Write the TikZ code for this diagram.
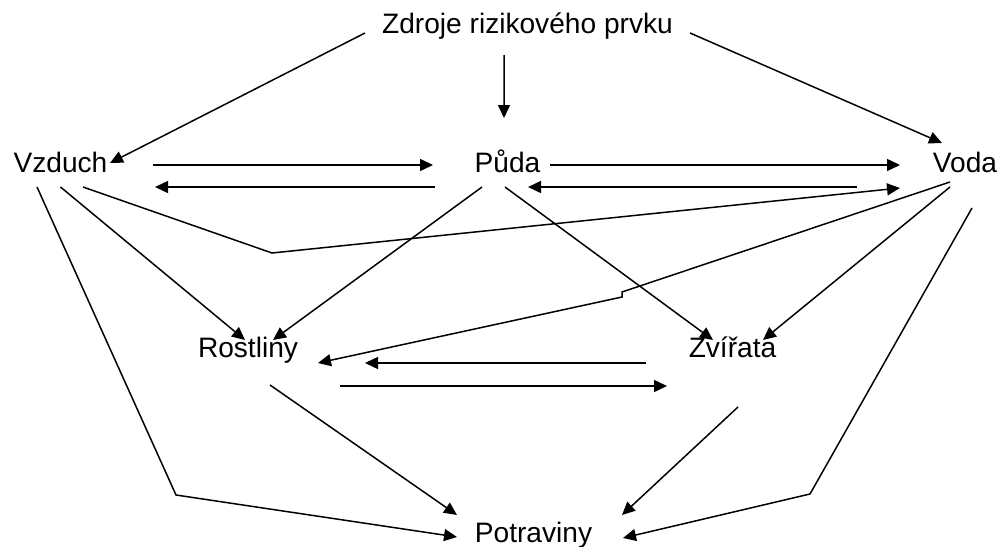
\documentclass[tikz,border=0pt]{standalone}
\usepackage{fontspec}
\setmainfont{Liberation Sans}
\usetikzlibrary{arrows.meta, calc}

\begin{document}
\begin{tikzpicture}[>={Triangle[length=0.26cm, width=0.24cm]}, line width=0.85pt,
  every node/.style={font=\fontsize{16}{19}\selectfont, inner sep=0pt, anchor=base}]
  \useasboundingbox (0,0) rectangle (20.06,-10.94);

  \node (zdroje) at (10.55,-0.66) {Zdroje rizikového prvku};
  \node (vzduch) at (1.21,-3.44) {Vzduch};
  \node (puda) at (10.15,-3.44) {Půda};
  \node (voda) at (19.30,-3.44) {Voda};
  \node (rostliny) at (4.96,-7.14) {Rostliny};
  \node (zvirata) at (14.65,-7.14) {Zvířata};
  \node (potraviny) at (10.67,-10.84) {Potraviny};

  % knee points of the bent lines
  \coordinate (knickA) at (5.44,-5.06);
  \coordinate (knickB1) at (12.44,-5.84);
  \coordinate (knickB2) at (12.44,-5.94);
  \coordinate (knickC) at (3.52,-9.90);
  \coordinate (knickD) at (16.20,-9.88);

  % from the source
  \draw[->] ([shift={(-3.25,0)}]zdroje.base) -- ([shift={(0.99,0.18)}]vzduch.base);
  \draw[->] ([shift={(-0.47,-0.44)}]zdroje.base) -- ([shift={(-0.07,1.08)}]puda.base);
  \draw[->] ([shift={(3.25,0)}]zdroje.base) -- ([shift={(-0.46,0.58)}]voda.base);

  % air, soil, water
  \draw[->] ([shift={(1.85,0.14)}]vzduch.base) -- ([shift={(-1.49,0.14)}]puda.base);
  \draw[->] ([shift={(-1.45,-0.30)}]puda.base) -- ([shift={(1.89,-0.30)}]vzduch.base);
  \draw[->] ([shift={(0.85,0.14)}]puda.base) -- ([shift={(-1.30,0.14)}]voda.base);
  \draw[->] ([shift={(-2.16,-0.30)}]voda.base) -- ([shift={(0.41,-0.30)}]puda.base);
  \draw[->] ([shift={(0.45,-0.30)}]vzduch.base) -- (knickA) -- ([shift={(-1.30,-0.32)}]voda.base);

  % to plants and animals
  \draw[->] ([shift={(0,-0.30)}]vzduch.base) -- ([shift={(-0.06,0.34)}]rostliny.base);
  \draw[->] ([shift={(-0.51,-0.30)}]puda.base) -- ([shift={(0.50,0.34)}]rostliny.base);
  \draw[->] ([shift={(-0.05,-0.30)}]puda.base) -- ([shift={(-0.39,0.34)}]zvirata.base);
  \draw[->] ([shift={(-0.30,-0.20)}]voda.base) -- (knickB1) -- (knickB2) -- ([shift={(1.40,-0.12)}]rostliny.base);
  \draw[->] ([shift={(-0.30,-0.30)}]voda.base) -- ([shift={(0.61,0.34)}]zvirata.base);
  \draw[->] ([shift={(-1.73,-0.12)}]zvirata.base) -- ([shift={(2.34,-0.12)}]rostliny.base);
  \draw[->] ([shift={(1.84,-0.58)}]rostliny.base) -- ([shift={(-1.31,-0.58)}]zvirata.base);

  % to food
  \draw[->] ([shift={(0.44,-0.56)}]rostliny.base) -- ([shift={(-1.53,0.54)}]potraviny.base);
  \draw[->] ([shift={(0.11,-1.00)}]zvirata.base) -- ([shift={(1.77,0.54)}]potraviny.base);
  \draw[->] ([shift={(-0.47,-0.30)}]vzduch.base) -- (knickC) -- ([shift={(-1.53,0.10)}]potraviny.base);
  \draw[->] ([shift={(0.14,-0.72)}]voda.base) -- (knickD) -- ([shift={(1.79,0.08)}]potraviny.base);
\end{tikzpicture}
\end{document}
